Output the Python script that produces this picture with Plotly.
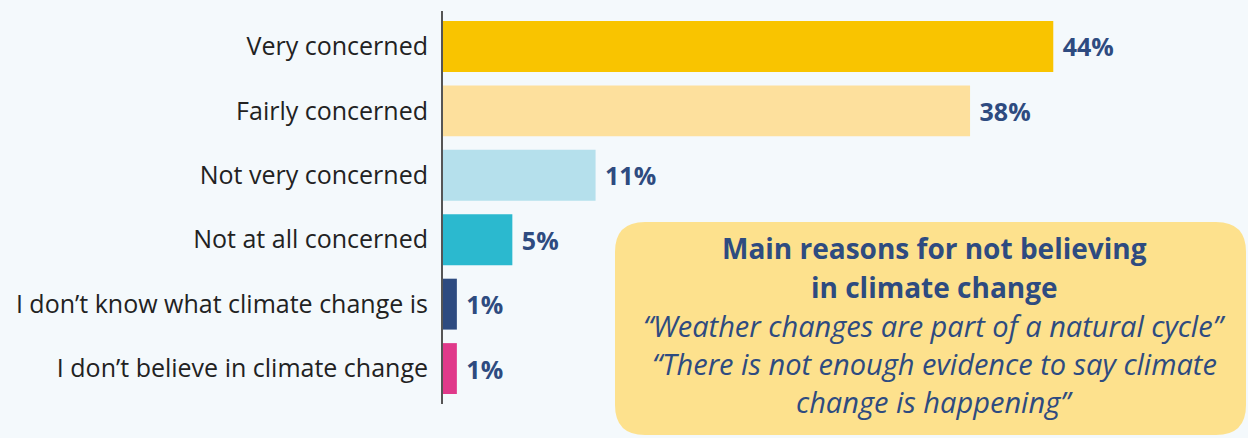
import plotly.graph_objects as go

categories = ["Very concerned", "Fairly concerned", "Not very concerned",
              "Not at all concerned", "I don’t know what climate change is",
              "I don’t believe in climate change"]
values = [44, 38, 11, 5, 1, 1]
colors = ["#f9c400", "#fde09d", "#b5e0ec", "#2bb9cf", "#2e4b80", "#e0398a"]

FONT = "Open Sans"
W, H = 1248, 438
ML, MR, MT, MB = 443, 0, 11, 34
PW, PH = W - ML - MR, H - MT - MB

fig = go.Figure(go.Bar(
    y=categories, x=values, orientation="h",
    marker=dict(color=colors, line=dict(width=0)),
    text=[f" {v}%" for v in values], textposition="outside",
    textfont=dict(family=FONT, size=25, color="#2e4b80", weight="bold"),
    cliponaxis=False, width=0.79,
))

def px_x(p):
    return (p - ML) / PW

def px_y(p):
    return (H - MB - p) / PH

# rounded box
x0, x1, y0, y1, r = 615, 1246, 222, 435, 30
rx, ry = r / PW, r / PH
X0, X1, Y0, Y1 = px_x(x0), px_x(x1), px_y(y1), px_y(y0)
path = (f"M {X0+rx},{Y0} L {X1-rx},{Y0} Q {X1},{Y0} {X1},{Y0+ry} "
        f"L {X1},{Y1-ry} Q {X1},{Y1} {X1-rx},{Y1} L {X0+rx},{Y1} "
        f"Q {X0},{Y1} {X0},{Y1-ry} L {X0},{Y0+ry} Q {X0},{Y0} {X0+rx},{Y0} Z")
fig.add_shape(type="path", path=path, xref="paper", yref="paper",
              fillcolor="#fde18d", line=dict(width=0), layer="below")

box_lines = [
    ("<b>Main reasons for not believing</b>", 248, False),
    ("<b>in climate change</b>", 287, False),
    ("<i>“Weather changes are part of a natural cycle”</i>", 325, True),
    ("<i>“There is not enough evidence to say climate</i>", 363, True),
    ("<i>change is happening”</i>", 401, True),
]
for txt, yy, it in box_lines:
    fig.add_annotation(text=txt, xref="paper", yref="paper",
                       x=px_x(934), y=px_y(yy), showarrow=False,
                       xanchor="center", yanchor="middle",
                       font=dict(family=FONT, size=28 if not it else 29,
                                 color="#2e4b80"))

fig.update_layout(
    width=W, height=H,
    margin=dict(l=ML, r=MR, t=MT, b=MB),
    paper_bgcolor="#f4f9fc", plot_bgcolor="#f4f9fc",
    showlegend=False,
    bargap=0.2,
    xaxis=dict(range=[0, PW / 13.87], visible=False, fixedrange=True),
    yaxis=dict(autorange=False, range=[5.55, -0.55], showgrid=False,
               showline=True, linecolor="#555555", linewidth=2,
               ticks="", ticklabelstandoff=8, fixedrange=True,
               tickfont=dict(family=FONT, size=25, color="#222222")),
)

fig.write_html("out.html", config={"displayModeBar": False})
with open("out.html", encoding="utf-8") as f:
    html = f.read()
html = html.replace("<head>", "<head><style>html,body{margin:0;padding:0;background:#f4f9fc;}</style>", 1)
with open("out.html", "w", encoding="utf-8") as f:
    f.write(html)
